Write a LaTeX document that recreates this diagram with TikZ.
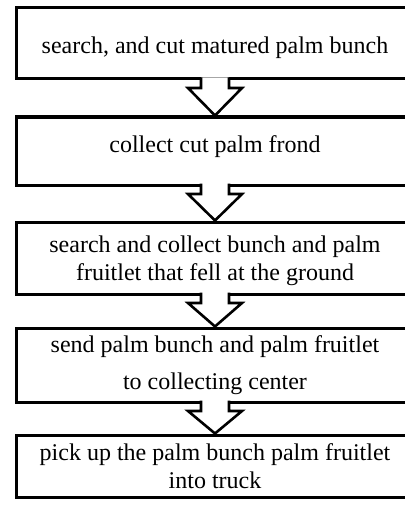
\documentclass[tikz,border=0pt]{standalone}
\usepackage{fontspec}
\setmainfont{Liberation Serif}

\begin{document}
\begin{tikzpicture}[x=1pt, y=-1pt,
			step box/.style={fill=none, outer sep=0pt, inner sep=0pt,
				minimum width=398pt, text centered, align=center,
				text=black, font=\fontsize{24}{28}\selectfont},
			outline/.style={draw, line width=3pt},
			flow/.style={draw, line width=2.6pt, fill=white, line join=miter}]
			\useasboundingbox (0,0) rectangle (404,508);
			\node[step box, minimum height=71pt] (s1) at (215, 43.5) {\rule{0pt}{26pt}search, and cut matured palm bunch};
			\node[step box, minimum height=68pt] (s2) at (215, 151) {\rule[-14pt]{0pt}{14pt}collect cut palm frond};
			\node[step box, minimum height=72pt] (s3) at (215, 258) {\rule{0pt}{23pt}search and collect bunch and palm\\fruitlet that fell at the ground};
			\node[step box, minimum height=74pt] (s4) at (215, 365) {send palm bunch and palm fruitlet\\[9pt]to collecting center};
			\node[step box, minimum height=62pt] (s5) at (215, 466) {pick up the palm bunch palm fruitlet\\into truck};
			
			% boxes run out past the right edge
			\foreach \s in {s1,s2,s3,s4,s5}
				\draw[outline] ([xshift=-6pt]\s.north east) -- (\s.north west) -- (\s.south west) -- ([xshift=-6pt]\s.south east);
			
			\path[flow] ([xshift=-14pt, yshift=1.5pt]s1.south) -- ++(0,10.5) -- ++(-13,0) -- ([yshift=1.5pt]s2.north) -- ([xshift=27pt, yshift=-9pt]s1.south) -- ++(-13,0) -- ([xshift=14pt, yshift=1.5pt]s1.south);
			\path[flow] ([xshift=-14pt, yshift=1.5pt]s2.south) -- ++(0,10.5) -- ++(-13,0) -- ([yshift=1.5pt]s3.north) -- ([xshift=27pt, yshift=-9pt]s2.south) -- ++(-13,0) -- ([xshift=14pt, yshift=1.5pt]s2.south);
			\path[flow] ([xshift=-14pt, yshift=1.5pt]s3.south) -- ++(0,10.5) -- ++(-13,0) -- ([yshift=1.5pt]s4.north) -- ([xshift=27pt, yshift=-9pt]s3.south) -- ++(-13,0) -- ([xshift=14pt, yshift=1.5pt]s3.south);
			\path[flow] ([xshift=-14pt, yshift=1.5pt]s4.south) -- ++(0,10.5) -- ++(-13,0) -- ([yshift=1.5pt]s5.north) -- ([xshift=27pt, yshift=-9pt]s4.south) -- ++(-13,0) -- ([xshift=14pt, yshift=1.5pt]s4.south);
			\end{tikzpicture}
\end{document}
